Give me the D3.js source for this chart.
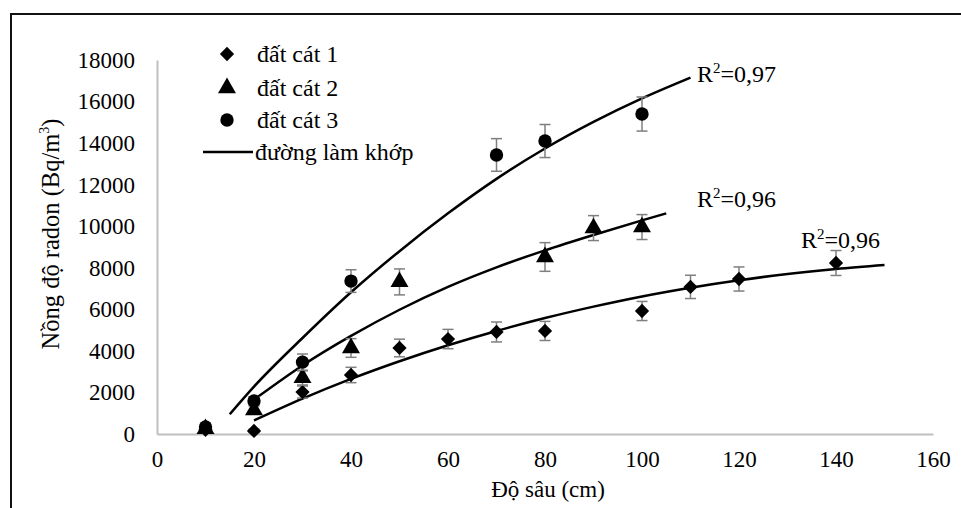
<!DOCTYPE html>
<html>
<head>
<meta charset="utf-8">
<script src="https://cdn.jsdelivr.net/npm/d3@7"></script>
<style>
  body { margin: 0; background: #fff; }
</style>
</head>
<body>
<svg id="chart" width="961" height="508" font-family="'Liberation Serif', 'Times New Roman', Times, 'DejaVu Serif', serif"></svg>
<script>
// measured series (depth in cm, radon in Bq/m3, error bar half-height)
const depths1 = [10, 20, 30, 40, 50, 60, 70, 80, 100, 110, 120, 140];
const radon1 = [200, 150, 2020, 2840, 4140, 4570, 4910, 4960, 5920, 7080, 7460, 8230];
const err1 = [60, 80, 290, 370, 425, 465, 480, 460, 460, 560, 580, 600];

const depths2 = [10, 20, 30, 40, 50, 80, 90, 100];
const radon2 = [250, 1150, 2700, 4140, 7320, 8520, 9910, 9960];
const err2 = [60, 200, 340, 450, 625, 690, 600, 600];

const depths3 = [10, 20, 30, 40, 70, 80, 100];
const radon3 = [340, 1590, 3460, 7360, 13430, 14100, 15400];
const err3 = [60, 200, 390, 545, 785, 795, 820];

// fitted curves
const fitX1 = [20, 30, 40, 50, 60, 70, 80, 90, 100, 110, 120, 130, 140, 150];
const fitY1 = [650, 1700, 2650, 3500, 4270, 4960, 5580, 6130, 6620, 7040, 7400, 7700, 7940, 8130];
const fitX2 = [20.8, 30, 40, 50, 60, 70, 80, 90, 100, 105];
const fitY2 = [1790, 3300, 4720, 5980, 7080, 8020, 8840, 9580, 10280, 10620];
const fitX3 = [15, 20, 30, 40, 50, 60, 70, 80, 90, 100, 110];
const fitY3 = [950, 2280, 4620, 6820, 8800, 10620, 12280, 13740, 15020, 16150, 17150];

const r2Labels = ["0,96", "0,96", "0,97"];
const legendLabels = ["đất cát 1", "đất cát 2", "đất cát 3", "đường làm khớp"];
const xTicks = [0, 20, 40, 60, 80, 100, 120, 140, 160];
const yTicks = [0, 2000, 4000, 6000, 8000, 10000, 12000, 14000, 16000, 18000];

const FONT = "'Liberation Serif', 'Times New Roman', Times, 'DejaVu Serif', serif";
const svg = d3.select('#chart');

const x = d3.scaleLinear().domain([0, 160]).range([157, 933]);
const y = d3.scaleLinear().domain([0, 18000]).range([434, 60]);

// outer frame
svg.append('rect')
    .attr('x', 11).attr('y', 14)
    .attr('width', 1000).attr('height', 600)
    .attr('fill', 'none').attr('stroke', '#111').attr('stroke-width', 2);

// axes
const xAxis = svg.append('g')
    .attr('transform', `translate(0,${y(0)})`)
    .call(d3.axisBottom(x).tickValues(xTicks).tickSize(0).tickPadding(17));
const yAxis = svg.append('g')
    .attr('transform', `translate(${x(0)},0)`)
    .call(d3.axisLeft(y).tickValues(yTicks).tickSize(0).tickPadding(22).tickFormat(d3.format('d')));

[xAxis, yAxis].forEach(g => {
    g.attr('font-family', FONT).attr('font-size', 23);
    g.select('.domain').attr('stroke', '#bfbfbf').attr('stroke-width', 2);
    g.selectAll('text').attr('fill', '#000');
});

// axis titles
svg.append('text')
    .attr('x', 548).attr('y', 497)
    .attr('text-anchor', 'middle').attr('font-size', 23).attr('font-family', FONT)
    .text('Độ sâu (cm)');

const yTitle = svg.append('text')
    .attr('transform', 'translate(59,234) rotate(-90)')
    .attr('text-anchor', 'middle').attr('font-size', 24.5).attr('font-family', FONT);
yTitle.append('tspan').text('Nồng độ radon (Bq/m');
yTitle.append('tspan').attr('font-size', 14).attr('dy', -10).text('3');
yTitle.append('tspan').attr('dy', 10).text(')');

// marker symbols
const shapes = [d3.symbolDiamond2, d3.symbolTriangle, d3.symbolCircle];
const shapeSizes = [130, 140, 140];
function marker(g, i, cx, cy) {
    g.append('path')
        .attr('d', d3.symbol().type(shapes[i]).size(shapeSizes[i])())
        .attr('transform', `translate(${cx},${cy})`)
        .attr('fill', '#000');
}

// fit lines
const line = d3.line().x(d => x(d[0])).y(d => y(d[1])).curve(d3.curveMonotoneX);
const fits = [[fitX1, fitY1], [fitX2, fitY2], [fitX3, fitY3]];
fits.forEach(([fx, fy]) => {
    svg.append('path')
        .datum(fx.map((v, i) => [v, fy[i]]))
        .attr('d', line)
        .attr('fill', 'none').attr('stroke', '#000').attr('stroke-width', 2.5);
});

// points with error bars
const series = [[depths1, radon1, err1], [depths2, radon2, err2], [depths3, radon3, err3]];
series.forEach(([dx, dy, de], si) => {
    const g = svg.append('g');
    dx.forEach((d, i) => {
        const cx = x(d);
        const top = y(dy[i] + de[i]), bot = y(dy[i] - de[i]);
        const eb = g.append('g').attr('stroke', '#7f7f7f').attr('stroke-width', 1.5);
        eb.append('line').attr('x1', cx).attr('x2', cx).attr('y1', top).attr('y2', bot);
        eb.append('line').attr('x1', cx - 5.5).attr('x2', cx + 5.5).attr('y1', top).attr('y2', top);
        eb.append('line').attr('x1', cx - 5.5).attr('x2', cx + 5.5).attr('y1', bot).attr('y2', bot);
        marker(g, si, cx, y(dy[i]));
    });
});

// R² labels
const r2Pos = [[801, 248], [697, 207], [697, 82]];
r2Labels.forEach((lab, i) => {
    const t = svg.append('text')
        .attr('x', r2Pos[i][0]).attr('y', r2Pos[i][1])
        .attr('font-size', 24).attr('font-family', FONT);
    t.append('tspan').text('R');
    t.append('tspan').attr('font-size', 15).attr('dy', -9).text('2');
    t.append('tspan').attr('dy', 9).text('=' + lab);
});

// legend
const legendRows = [54, 88, 120, 152];
const legend = svg.append('g').attr('font-family', FONT);
legendLabels.forEach((lab, i) => {
    const ry = legendRows[i];
    if (i < 3) {
        marker(legend, i, 227, ry);
    } else {
        legend.append('line')
            .attr('x1', 203).attr('x2', 253).attr('y1', ry).attr('y2', ry)
            .attr('stroke', '#000').attr('stroke-width', 2.5);
    }
    legend.append('text')
        .attr('x', i < 3 ? 257 : 255).attr('y', ry + 8)
        .attr('font-size', 24)
        .text(lab);
});
</script>
</body>
</html>
